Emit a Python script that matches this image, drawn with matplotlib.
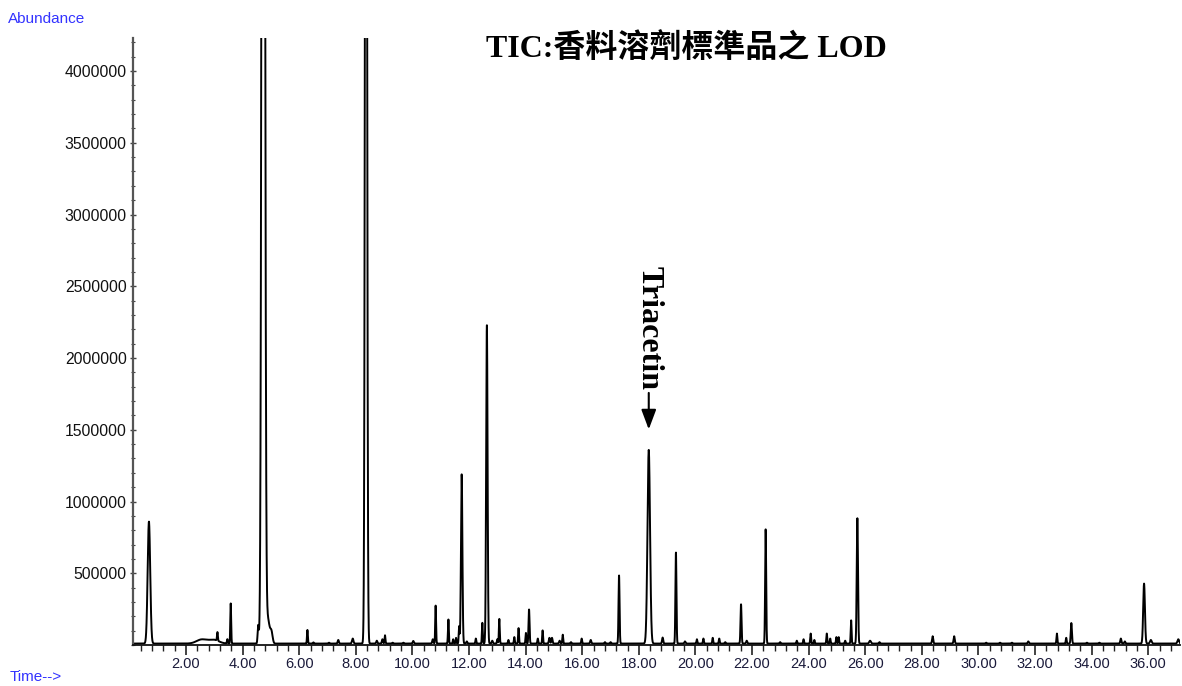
import numpy as np
import matplotlib
matplotlib.use("Agg")
import matplotlib.pyplot as plt
from matplotlib.ticker import MultipleLocator, FormatStrFormatter

# ---- data ----
baseline_level = 10000
peak_rt = [0.69, 2.55, 2.98, 3.11, 3.46, 3.58, 4.55, 4.73, 4.88, 5.02,
           6.29, 6.50, 7.05, 7.38, 7.89, 8.36, 8.74, 8.94, 9.03, 9.30,
           9.68, 10.03, 10.72, 10.82, 11.27, 11.44, 11.54, 11.65, 11.74, 11.92,
           12.24, 12.47, 12.63, 12.82, 13.00, 13.07, 13.39, 13.60, 13.75, 14.01,
           14.12, 14.43, 14.60, 14.84, 14.93, 15.20, 15.31, 15.60, 15.98, 16.30,
           16.80, 17.00, 17.30, 18.35, 18.84, 19.31, 19.63, 20.05, 20.28, 20.61,
           20.84, 21.05, 21.61, 21.81, 22.48, 22.99, 23.58, 23.82, 24.07, 24.20,
           24.64, 24.76, 24.98, 25.06, 25.29, 25.50, 25.72, 26.17, 26.50, 28.38,
           29.14, 30.27, 30.76, 31.18, 31.76, 32.77, 33.10, 33.28, 33.83, 34.27,
           35.03, 35.17, 35.85, 36.09, 37.06]
peak_height = [850000, 28000, 26000, 60000, 30000, 280000, 125000, 15000000, 180000, 70000,
               95000, 8000, 6000, 25000, 35000, 10000000, 20000, 30000, 58000, 6000,
               6000, 18000, 30000, 265000, 168000, 30000, 40000, 120000, 1180000, 15000,
               35000, 145000, 2220000, 20000, 30000, 172000, 25000, 45000, 108000, 74000,
               238000, 35000, 92000, 40000, 40000, 20000, 62000, 10000, 35000, 25000,
               10000, 10000, 475000, 1350000, 42000, 635000, 15000, 30000, 35000, 40000,
               35000, 10000, 274000, 20000, 797000, 10000, 20000, 30000, 70000, 25000,
               70000, 35000, 45000, 45000, 20000, 162000, 874000, 20000, 10000, 51000,
               51000, 6000, 6000, 6000, 15000, 70000, 40000, 143000, 6000, 6000,
               35000, 15000, 418000, 25000, 30000]
peak_sigma = [0.045, 0.18, 0.18, 0.015, 0.015, 0.015, 0.02, 0.045, 0.07, 0.04,
              0.015, 0.02, 0.02, 0.02, 0.025, 0.032, 0.02, 0.02, 0.015, 0.02,
              0.02, 0.02, 0.02, 0.015, 0.015, 0.015, 0.015, 0.015, 0.025, 0.02,
              0.015, 0.015, 0.025, 0.02, 0.015, 0.015, 0.015, 0.015, 0.015, 0.015,
              0.018, 0.015, 0.015, 0.02, 0.02, 0.02, 0.015, 0.02, 0.015, 0.02,
              0.02, 0.02, 0.018, 0.045, 0.02, 0.018, 0.02, 0.015, 0.015, 0.015,
              0.015, 0.02, 0.018, 0.02, 0.018, 0.02, 0.015, 0.015, 0.015, 0.015,
              0.015, 0.015, 0.015, 0.015, 0.015, 0.015, 0.022, 0.03, 0.02, 0.02,
              0.02, 0.02, 0.02, 0.02, 0.02, 0.015, 0.015, 0.02, 0.02, 0.02,
              0.02, 0.02, 0.03, 0.03, 0.03]

x_ticks_major = np.arange(2, 38, 2)
y_ticks_major = np.arange(500000, 4500000, 500000)
title_text = "TIC:香料溶劑標準品之 LOD"
annot_text = "Triacetin"
annot_rt = 18.35

# ---- build trace from peak table ----
t = np.arange(0.127, 37.12, 0.002)
signal = np.full_like(t, baseline_level, dtype=float)
for rt, h, s in zip(peak_rt, peak_height, peak_sigma):
    signal += h * np.exp(-0.5 * ((t - rt) / s) ** 2)

fig = plt.figure(figsize=(11.82, 6.86), dpi=100)
ax = fig.add_axes([133 / 1182, 1 - 645 / 686, (1180 - 133) / 1182, (645 - 38) / 686])
ax.plot(t, signal, color="black", lw=1.4)
ax.set_xlim(0.127, 37.12)
ax.set_ylim(0, 4230000)

for side in ("top", "right"):
    ax.spines[side].set_visible(False)
ax.spines["left"].set_color("#555555")
ax.spines["left"].set_linewidth(1.6)
ax.spines["bottom"].set_color("#111111")
ax.spines["bottom"].set_linewidth(1.3)

ax.set_xticks(x_ticks_major)
ax.xaxis.set_major_formatter(FormatStrFormatter("%.2f"))
ax.xaxis.set_minor_locator(MultipleLocator(0.4))
ax.set_yticks(y_ticks_major)
ax.yaxis.set_major_formatter(FormatStrFormatter("%d"))
ax.yaxis.set_minor_locator(MultipleLocator(100000))

ax.tick_params(axis="x", which="major", direction="out", length=7, width=1.2,
               pad=2, labelsize=10.5, labelcolor="#1a1a3a", color="#222222")
ax.tick_params(axis="x", which="minor", direction="out", length=4, width=1.0,
               color="#222222")
ax.tick_params(axis="y", which="major", direction="inout", length=5, width=1.0,
               pad=2, labelsize=11.3, labelcolor="#111111", color="#444444")
ax.tick_params(axis="y", which="minor", direction="inout", length=3, width=0.8,
               color="#444444")
for lab in ax.get_xticklabels() + ax.get_yticklabels():
    lab.set_fontfamily("Liberation Sans")

fig.text(8 / 1182, 1 - 19 / 686, "Abundance", color="#3333ff", fontsize=11,
         family="Liberation Sans", va="center", ha="left")
fig.text(10 / 1182, 1 - 677 / 686, "Time-->", color="#3333ff", fontsize=11,
         family="Liberation Sans", va="center", ha="left")

fig.text(686 / 1182, 1 - 48 / 686, title_text, fontsize=23, fontweight="bold",
         family=["Liberation Serif", "Noto Sans CJK TC"], ha="center", va="center")

ax.text(annot_rt, 2207000, annot_text, rotation=-90, fontsize=23, fontweight="bold",
        family="Liberation Serif", ha="center", va="center")
ax.annotate("", xy=(annot_rt, 1483000), xytext=(annot_rt, 1776000),
            arrowprops=dict(arrowstyle="-|>,head_length=1.2,head_width=0.45",
                            color="black", lw=1.5))

fig.savefig("out.png", dpi=100)
